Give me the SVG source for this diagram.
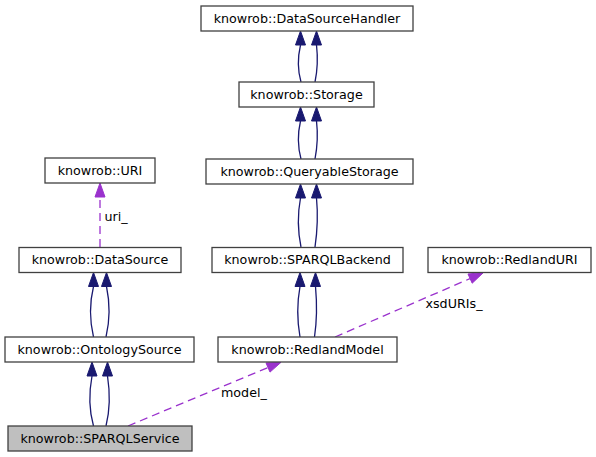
<svg xmlns="http://www.w3.org/2000/svg" width="596" height="457" viewBox="0 0 596 457">
<style>
.box{fill:#ffffff;stroke:#404040;stroke-width:1.3}
.sel{fill:#bfbfbf;stroke:#404040;stroke-width:1.3}
text{font-family:"DejaVu Sans",sans-serif;font-size:12.7px;fill:#000000}
.lbl{text-anchor:middle}
.inh{fill:none;stroke:#191970;stroke-width:1.3}
.ah{fill:#191970;stroke:#191970;stroke-width:1}
.use{fill:none;stroke:#9a32cd;stroke-width:1.3;stroke-dasharray:8,5}
.uh{fill:#9a32cd;stroke:#9a32cd;stroke-width:1}
</style>
<rect width="596" height="457" fill="#ffffff"/>
<g id="connectors">
  <!-- Storage -> DataSourceHandler -->
  <path class="inh" d="M300.5,45 C297.5,58 297.5,70 301,82"/>
  <path class="inh" d="M316.5,45 C318,58 317.5,70 315,82"/>
  <polygon class="ah" points="295.5,45 300.5,31 305.5,45"/>
  <polygon class="ah" points="311.5,45 316.5,31 321.5,45"/>
  <!-- QueryableStorage -> Storage -->
  <path class="inh" d="M300.5,121 C297.5,134 297.5,146 301,159"/>
  <path class="inh" d="M316.5,121 C318,134 317.5,146 315,159"/>
  <polygon class="ah" points="295.5,121 300.5,107 305.5,121"/>
  <polygon class="ah" points="311.5,121 316.5,107 321.5,121"/>
  <!-- SPARQLBackend -> QueryableStorage -->
  <path class="inh" d="M300.5,198 C297.5,214 297.5,230 301,247"/>
  <path class="inh" d="M316.5,198 C318,214 317.5,230 315,247"/>
  <polygon class="ah" points="295.5,198 300.5,184 305.5,198"/>
  <polygon class="ah" points="311.5,198 316.5,184 321.5,198"/>
  <!-- RedlandModel -> SPARQLBackend -->
  <path class="inh" d="M300,286.5 C297,303 297,320 300,337"/>
  <path class="inh" d="M315.5,286.5 C317,303 317,320 314.5,337"/>
  <polygon class="ah" points="295,286.5 300,272.5 305,286.5"/>
  <polygon class="ah" points="310.5,286.5 315.5,272.5 320.5,286.5"/>
  <!-- OntologySource -> DataSource -->
  <path class="inh" d="M93.5,286.5 C89.5,303 89.5,320 93.5,337"/>
  <path class="inh" d="M106.5,286.5 C110,303 110,320 106,337"/>
  <polygon class="ah" points="88.5,286.5 93.5,272.5 98.5,286.5"/>
  <polygon class="ah" points="101.5,286.5 106.5,272.5 111.5,286.5"/>
  <!-- SPARQLService -> OntologySource -->
  <path class="inh" d="M92,376 C89,392 89,410 93.5,426"/>
  <path class="inh" d="M107.5,376 C110,392 110,410 106,426"/>
  <polygon class="ah" points="87,376 92,362 97,376"/>
  <polygon class="ah" points="102.5,376 107.5,362 112.5,376"/>
  <!-- DataSource uses URI -->
  <path class="use" d="M100,247 L100,197"/>
  <polygon class="uh" points="95,197 100,183 105,197"/>
  <text x="104.5" y="221">uri_</text>
  <!-- SPARQLService uses RedlandModel -->
  <path class="use" d="M128,426 L268,367.5"/>
  <polygon class="uh" points="266,362.9 281,362.3 270,372.1"/>
  <text x="221" y="397">model_</text>
  <!-- RedlandModel uses RedlandURI -->
  <path class="use" d="M335,337 L470,278.6"/>
  <polygon class="uh" points="468,274 483.5,272.5 472.2,283.2"/>
  <text x="425.5" y="307.5">xsdURIs_</text>
</g>
<g id="node-DataSourceHandler">
  <rect class="box" x="201" y="6" width="212" height="25"/>
  <text class="lbl" x="307" y="22.5">knowrob::DataSourceHandler</text>
</g>
<g id="node-Storage">
  <rect class="box" x="239" y="82" width="135" height="25"/>
  <text class="lbl" x="306.5" y="98.5">knowrob::Storage</text>
</g>
<g id="node-QueryableStorage">
  <rect class="box" x="206" y="159" width="207" height="25"/>
  <text class="lbl" x="309.5" y="175.5">knowrob::QueryableStorage</text>
</g>
<g id="node-SPARQLBackend">
  <rect class="box" x="212" y="247.5" width="191" height="25"/>
  <text class="lbl" x="307.5" y="264">knowrob::SPARQLBackend</text>
</g>
<g id="node-RedlandURI">
  <rect class="box" x="428" y="247.5" width="163" height="25"/>
  <text class="lbl" x="509.5" y="264">knowrob::RedlandURI</text>
</g>
<g id="node-RedlandModel">
  <rect class="box" x="218" y="337" width="179" height="25"/>
  <text class="lbl" x="307.5" y="353.5">knowrob::RedlandModel</text>
</g>
<g id="node-URI">
  <rect class="box" x="45" y="158" width="110" height="25"/>
  <text class="lbl" x="100" y="174.5">knowrob::URI</text>
</g>
<g id="node-DataSource">
  <rect class="box" x="19" y="247.5" width="162" height="25"/>
  <text class="lbl" x="100" y="264">knowrob::DataSource</text>
</g>
<g id="node-OntologySource">
  <rect class="box" x="5" y="337" width="189" height="25"/>
  <text class="lbl" x="99.5" y="353.5">knowrob::OntologySource</text>
</g>
<g id="node-SPARQLService">
  <rect class="sel" x="8" y="426" width="184" height="25"/>
  <text class="lbl" x="100" y="442.5">knowrob::SPARQLService</text>
</g>
</svg>
